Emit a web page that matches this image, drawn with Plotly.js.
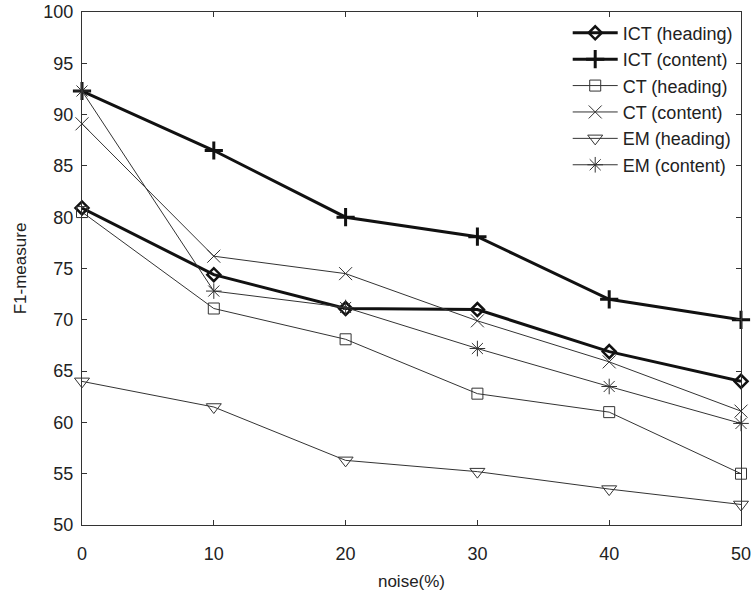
<!DOCTYPE html>
<html>
<head>
<meta charset="utf-8">
<script src="https://cdn.plot.ly/plotly-3.0.1.min.js"></script>
<style>html,body{margin:0;padding:0;background:#fff;}#chart{width:754px;height:604px;}</style>
</head>
<body>
<div id="chart"></div>
<script>
var noise = [0, 10, 20, 30, 40, 50];
var seriesNames = ["ICT (heading)", "ICT (content)", "CT (heading)", "CT (content)", "EM (heading)", "EM (content)"];
var ictHeading = [80.9, 74.4, 71.1, 71.0, 66.9, 64.0];
var ictContent = [92.3, 86.5, 80.0, 78.1, 72.0, 70.0];
var ctHeading  = [80.5, 71.1, 68.1, 62.8, 61.0, 55.0];
var ctContent  = [89.1, 76.2, 74.5, 69.9, 65.9, 61.1];
var emHeading  = [64.0, 61.5, 56.3, 55.2, 53.5, 52.0];
var emContent  = [92.3, 72.8, 71.2, 67.2, 63.5, 59.9];
var xTicks = [0, 10, 20, 30, 40, 50];
var yTicks = [50, 55, 60, 65, 70, 75, 80, 85, 90, 95, 100];

var styles = [
  {w: 3, sym: "diamond-open", size: 10, mw: 2.5, c: "#111"},
  {w: 3, sym: "cross-thin-open", size: 13, mw: 3, c: "#111"},
  {w: 1, sym: "square-open", size: 11, mw: 1, c: "#333"},
  {w: 1, sym: "x-thin-open", size: 13, mw: 1, c: "#333"},
  {w: 1, sym: "triangle-down-open", size: 13, mw: 1, c: "#333"},
  {w: 1, sym: "asterisk-open", size: 13, mw: 1, c: "#333"}
];
var allY = [ictHeading, ictContent, ctHeading, ctContent, emHeading, emContent];
var data = allY.map(function (ys, i) {
  var s = styles[i];
  return {
    x: noise, y: ys, name: seriesNames[i], type: "scatter", mode: "lines+markers",
    line: {color: s.c, width: s.w},
    marker: {symbol: s.sym, size: s.size, color: s.c, line: {color: s.c, width: s.mw}},
    cliponaxis: false
  };
});

var fam = "Liberation Sans, Arial, sans-serif";
var layout = {
  width: 754, height: 604,
  margin: {l: 82, r: 13, t: 12, b: 79},
  paper_bgcolor: "#fff", plot_bgcolor: "#fff",
  showlegend: true,
  legend: {x: 0.995, y: 0.995, xanchor: "right", yanchor: "top", bgcolor: "rgba(0,0,0,0)",
           font: {family: fam, size: 18, color: "#222"}, tracegroupgap: 0, itemwidth: 45},
  xaxis: {
    range: [0, 50], tickvals: xTicks, ticktext: xTicks.map(String),
    showgrid: false, zeroline: false, showline: true, linecolor: "#333", linewidth: 1,
    mirror: "ticks", ticks: "inside", ticklen: 5, tickcolor: "#333", ticklabelstandoff: 12,
    tickfont: {family: fam, size: 18, color: "#222"},
    title: {text: "noise(%)", font: {family: fam, size: 17, color: "#222"}, standoff: 12}
  },
  yaxis: {
    range: [50, 100], tickvals: yTicks, ticktext: yTicks.map(String),
    showgrid: false, zeroline: false, showline: true, linecolor: "#333", linewidth: 1,
    mirror: "ticks", ticks: "inside", ticklen: 5, tickcolor: "#333", ticklabelstandoff: 4,
    tickfont: {family: fam, size: 18, color: "#222"},
    title: {text: "F1-measure", font: {family: fam, size: 17, color: "#222"}, standoff: 12}
  }
};
Plotly.newPlot("chart", data, layout, {displayModeBar: false, staticPlot: true});
</script>
</body>
</html>
